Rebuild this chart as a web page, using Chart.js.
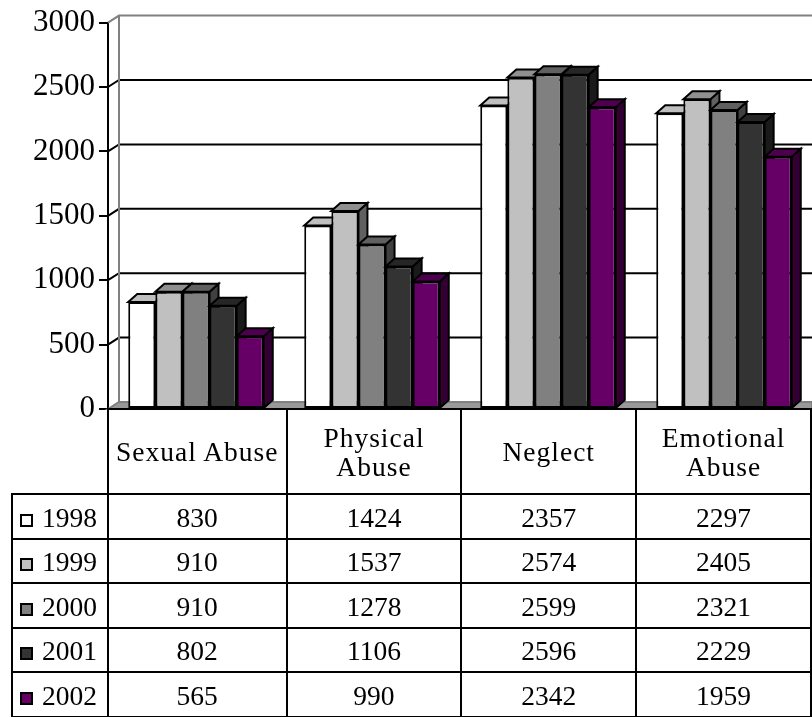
<!DOCTYPE html>
<html>
<head>
<meta charset="utf-8">
<script src="https://cdn.jsdelivr.net/npm/chart.js@4.4.0/dist/chart.umd.min.js"></script>
<style>
    html, body { margin: 0; padding: 0; background: #fff; }
    #wrap { position: relative; width: 812px; height: 717px; overflow: hidden; }
    #chartBox { position: absolute; left: 0; top: 0; width: 812px; height: 717px; }
    #tbl {
        position: absolute; left: 11px; top: 408px;
        border-collapse: collapse; table-layout: fixed;
        font-family: "Liberation Serif", serif; font-size: 27.5px; color: #000;
    }
    #tbl td, #tbl th { border: 2px solid #000; padding: 0; text-align: center; font-weight: normal; }
    #tbl th { height: 83px; line-height: 29px; letter-spacing: 1px; vertical-align: middle; }
    #tbl th.corner { border-top: none; border-left: none; }
    #tbl td { height: 39.5px; line-height: 30px; padding-top: 3px; }
    #tbl td.year { text-align: left; padding-left: 7px; }
    .swatch { display: inline-block; width: 9px; height: 9px; border: 2px solid #000; margin-right: 9px; }
</style>
</head>
<body>
<div id="wrap">
    <div id="chartBox"><canvas id="myChart"></canvas></div>
    <table id="tbl">
        <colgroup>
            <col style="width:96px"><col style="width:179px"><col style="width:175px"><col style="width:175px"><col style="width:175px">
        </colgroup>
    </table>
</div>
<script>
// datos del grafico
const categorias = ["Sexual Abuse", "Physical Abuse", "Neglect", "Emotional Abuse"];
const etiquetasTabla = [["Sexual Abuse"], ["Physical", "Abuse"], ["Neglect"], ["Emotional", "Abuse"]];
const anios = ["1998", "1999", "2000", "2001", "2002"];

const datos1998 = [830, 1424, 2357, 2297];
const datos1999 = [910, 1537, 2574, 2405];
const datos2000 = [910, 1278, 2599, 2321];
const datos2001 = [802, 1106, 2596, 2229];
const datos2002 = [565, 990, 2342, 1959];

const ejeY = [0, 500, 1000, 1500, 2000, 2500, 3000];

const series = [datos1998, datos1999, datos2000, datos2001, datos2002];
const colores = ["#ffffff", "#c0c0c0", "#808080", "#333333", "#660066"];

// sombra para las caras del efecto 3D
function sombra(hex, f) {
    const n = parseInt(hex.slice(1), 16);
    const r = Math.round(((n >> 16) & 255) * f);
    const g = Math.round(((n >> 8) & 255) * f);
    const b = Math.round((n & 255) * f);
    return "rgb(" + r + "," + g + "," + b + ")";
}

const barDx = 9, barDy = 8;     // profundidad de las barras
const wallDx = 11, wallDy = 7;  // profundidad de la pared

const efecto3d = {
    id: "efecto3d",
    beforeDatasetsDraw(chart) {
        const ctx = chart.ctx;
        const area = chart.chartArea;
        const y = chart.scales.y;
        const top = y.getPixelForValue(ejeY[ejeY.length - 1]);
        const bottom = y.getPixelForValue(0);

        ctx.save();
        ctx.lineWidth = 2;

        // lineas de la pared del fondo
        ctx.strokeStyle = "#000";
        ejeY.forEach(v => {
            if (v === 0 || v === ejeY[ejeY.length - 1]) return;
            const py = y.getPixelForValue(v);
            ctx.beginPath();
            ctx.moveTo(area.left, py);
            ctx.lineTo(area.left + wallDx, py - wallDy);
            ctx.lineTo(area.right, py - wallDy);
            ctx.stroke();
        });

        // bordes de la pared
        ctx.strokeStyle = "#808080";
        ctx.beginPath();
        ctx.moveTo(area.left, top);
        ctx.lineTo(area.left + wallDx, top - wallDy);
        ctx.lineTo(area.right, top - wallDy);
        ctx.moveTo(area.left + wallDx, top - wallDy);
        ctx.lineTo(area.left + wallDx, bottom - wallDy);
        ctx.stroke();

        // piso
        ctx.fillStyle = "#999999";
        ctx.beginPath();
        ctx.moveTo(area.left, bottom);
        ctx.lineTo(area.left + wallDx, bottom - wallDy);
        ctx.lineTo(area.right, bottom - wallDy);
        ctx.lineTo(area.right, bottom);
        ctx.closePath();
        ctx.fill();
        ctx.strokeStyle = "#808080";
        ctx.stroke();

        // barras de izquierda a derecha
        const metas = chart.getSortedVisibleDatasetMetas().slice().sort((a, b) => a.index - b.index);
        ctx.strokeStyle = "#000";
        for (let i = 0; i < categorias.length; i++) {
            metas.forEach(meta => {
                const bar = meta.data[i];
                const p = bar.getProps(["x", "y", "base", "width"], true);
                const l = p.x - p.width / 2, r = p.x + p.width / 2;
                const color = colores[meta.index];

                // cara lateral
                ctx.fillStyle = sombra(color, 0.5);
                ctx.beginPath();
                ctx.moveTo(r, p.y);
                ctx.lineTo(r + barDx, p.y - barDy);
                ctx.lineTo(r + barDx, p.base - barDy);
                ctx.lineTo(r, p.base);
                ctx.closePath();
                ctx.fill();
                ctx.stroke();

                // cara superior
                ctx.fillStyle = sombra(color, 0.75);
                ctx.beginPath();
                ctx.moveTo(l, p.y);
                ctx.lineTo(l + barDx, p.y - barDy);
                ctx.lineTo(r + barDx, p.y - barDy);
                ctx.lineTo(r, p.y);
                ctx.closePath();
                ctx.fill();
                ctx.stroke();

                bar.draw(ctx);
            });
        }
        ctx.restore();
        return false;
    }
};

let miCanvas = document.getElementById("myChart").getContext("2d");

var chart = new Chart(miCanvas, {
    type: "bar",
    plugins: [efecto3d],
    data: {
        labels: categorias,
        datasets: anios.map((anio, k) => ({
            label: anio,
            data: series[k],
            backgroundColor: colores[k],
            borderColor: "#000",
            borderWidth: 2,
            borderSkipped: false,
            barPercentage: 1,
            categoryPercentage: 0.77
        }))
    },
    options: {
        responsive: true,
        maintainAspectRatio: false,
        animation: false,
        layout: { padding: { top: 20.5, right: 0, bottom: 308, left: 0 } },
        plugins: { legend: { display: false }, tooltip: { enabled: false } },
        scales: {
            x: { display: false },
            y: {
                min: ejeY[0],
                max: ejeY[ejeY.length - 1],
                afterFit(scale) { scale.width = 108; },
                afterBuildTicks(scale) { scale.ticks = ejeY.map(v => ({ value: v })); },
                ticks: {
                    color: "#000",
                    padding: 4,
                    font: { family: "Liberation Serif", size: 31 },
                    callback: (v) => String(v)
                },
                grid: { drawOnChartArea: false, drawTicks: true, tickLength: 9, color: "#000", lineWidth: 2 },
                border: { display: true, color: "#000", width: 2 }
            }
        }
    }
});

// tabla de datos debajo del grafico
const tabla = document.getElementById("tbl");
let filas = '<tr><th class="corner"></th>';
etiquetasTabla.forEach(lineas => { filas += "<th>" + lineas.join("<br>") + "</th>"; });
filas += "</tr>";
anios.forEach((anio, k) => {
    filas += '<tr><td class="year"><span class="swatch" style="background:' + colores[k] + '"></span>' + anio + "</td>";
    series[k].forEach(v => { filas += "<td>" + v + "</td>"; });
    filas += "</tr>";
});
tabla.insertAdjacentHTML("beforeend", filas);
</script>
</body>
</html>
